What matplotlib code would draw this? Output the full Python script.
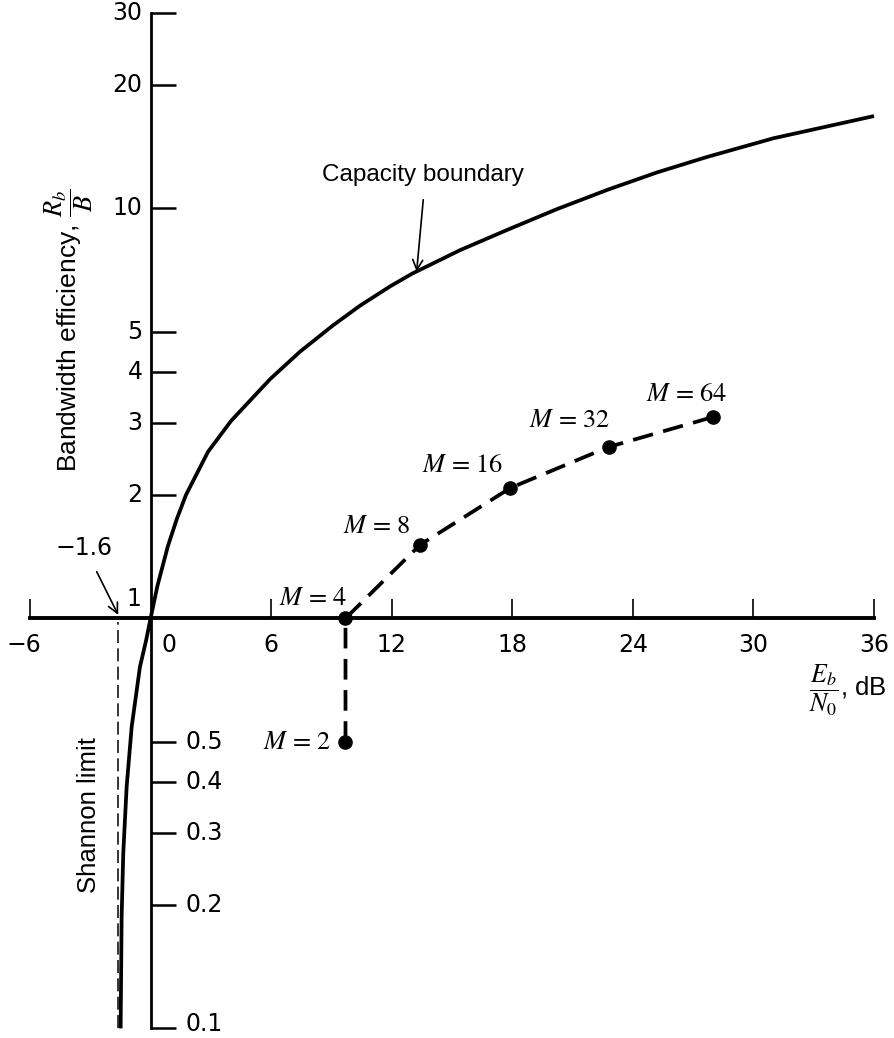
import matplotlib
matplotlib.use("Agg")
import matplotlib.pyplot as plt
from matplotlib.ticker import NullLocator

plt.rcParams['mathtext.fontset'] = 'stix'
plt.rcParams['font.family'] = ['Liberation Sans', 'DejaVu Sans']

# ---- data ----
# capacity boundary (Eb/N0 in dB, bandwidth efficiency Rb/B)
cap_ebno_db = [-1.49, -1.44, -1.36, -1.19, -0.94, -0.53, -0.22, 0.00, 0.34, 0.86,
               1.31, 1.76, 2.86, 4.00, 5.94, 7.43, 9.09, 10.42, 11.91, 13.01,
               15.4, 17.74, 20.2, 22.71, 25.2, 27.69, 31.0, 34.45, 36.0]
cap_eff = [0.100, 0.187, 0.267, 0.389, 0.544, 0.761, 0.885, 1.00, 1.20, 1.50,
           1.75, 2.00, 2.55, 3.03, 3.83, 4.47, 5.19, 5.79, 6.45, 6.93,
           7.91, 8.86, 9.95, 11.09, 12.24, 13.35, 14.83, 16.16, 16.8]

# M-ary operating points
mod_M = [2, 4, 8, 16, 32, 64]
mod_ebno_db = [9.7, 9.7, 13.4, 17.9, 22.8, 28.0]
mod_eff = [0.5, 1.0, 1.51, 2.08, 2.62, 3.1]

shannon_limit_db = -1.6

x_ticks = [-6, 0, 6, 12, 18, 24, 30, 36]
x_tick_labels = ['\u22126', '0', '6', '12', '18', '24', '30', '36']
y_ticks_upper = [2, 3, 4, 5, 10, 20, 30]
y_ticks_upper_labels = ['2', '3', '4', '5', '10', '20', '30']
y_ticks_lower = [0.1, 0.2, 0.3, 0.4, 0.5]
y_ticks_lower_labels = ['0.1', '0.2', '0.3', '0.4', '0.5']

# ---- figure ----
W, H = 894, 1038
fig = plt.figure(figsize=(W / 100, H / 100), dpi=100)
ax = fig.add_axes([30 / W, (H - 1028.4) / H, 844 / W, (1028.4 - 12.8) / H])
ax.set_yscale('log')
ax.set_xlim(-6, 36)
ax.set_ylim(0.1, 30)

for s in ['top', 'right']:
    ax.spines[s].set_visible(False)
ax.spines['left'].set_position(('data', 0))
ax.spines['bottom'].set_position(('data', 1))
ax.spines['left'].set_bounds(0.1, 30)
ax.spines['bottom'].set_bounds(-6, 36)
ax.spines['left'].set_linewidth(2.0)
ax.spines['bottom'].set_linewidth(2.8)

ax.set_xticks([t for t in x_ticks if t != 0])
ax.set_yticks(y_ticks_upper + y_ticks_lower)
ax.yaxis.set_minor_locator(NullLocator())
ax.tick_params(axis='x', direction='in', length=14, width=1.2, labelbottom=False)
ax.tick_params(axis='y', direction='in', length=18, width=1.8, labelleft=False)

num_font = dict(fontsize=17, family='DejaVu Sans')
# x tick labels
for t, lbl in zip(x_ticks, x_tick_labels):
    dx = 0
    if t == 0:
        dx = 18
    elif t == -6:
        dx = -6
    ax.annotate(lbl, xy=(t, 1), xytext=(dx, -27), textcoords='offset pixels',
                ha='center', va='center', **num_font)
# y tick labels
for v, lbl in zip(y_ticks_upper, y_ticks_upper_labels):
    ax.annotate(lbl, xy=(0, v), xytext=(-8, 0), textcoords='offset pixels',
                ha='right', va='center', **num_font)
for v, lbl in zip(y_ticks_lower, y_ticks_lower_labels):
    dy = 4 if v == min(y_ticks_lower) else 0
    ax.annotate(lbl, xy=(0, v), xytext=(35, dy), textcoords='offset pixels',
                ha='left', va='center', **num_font)
ax.annotate('1', xy=(0, 1), xytext=(-17, 19), textcoords='offset pixels',
            ha='center', va='center', **num_font)

# capacity boundary
ax.plot(cap_ebno_db, cap_eff, color='black', lw=2.7, clip_on=False,
        solid_joinstyle='round', solid_capstyle='butt')

# Shannon limit dashed line
ax.plot([shannon_limit_db, shannon_limit_db], [0.1, 0.98], color='black', lw=1.1,
        dashes=(8.5, 3.5), clip_on=False)

# M-ary points
ax.plot(mod_ebno_db, mod_eff, color='black', lw=2.7, dashes=(5.5, 2.8),
        marker='o', markersize=9.5, clip_on=False)

label_offsets = {2: (-48, -1), 4: (-32, 19), 8: (-43, 18), 16: (-48, 22),
                 32: (-39, 26), 64: (-27, 22)}
for m, xv, yv in zip(mod_M, mod_ebno_db, mod_eff):
    dx, dy = label_offsets[m]
    ax.annotate(r'$M$ = %d' % m, xy=(xv, yv), xytext=(dx, dy),
                textcoords='offset pixels', ha='center', va='center',
                fontsize=19, family='STIXGeneral')

# Capacity boundary annotation
ax.text(13.56, 12.06, 'Capacity boundary', ha='center', va='center', fontsize=17.5)
ax.annotate('', xy=(13.24, 7.01), xytext=(13.57, 10.5),
            arrowprops=dict(arrowstyle='->', lw=1.2, color='black',
                            mutation_scale=18, shrinkA=0, shrinkB=0))

# -1.6 annotation
ax.text(-3.3, 1.485, '\u22121.6', ha='center', va='center', **num_font)
ax.annotate('', xy=(-1.61, 1.02), xytext=(-2.68, 1.30),
            arrowprops=dict(arrowstyle='->', lw=1.2, color='black',
                            mutation_scale=18, shrinkA=0, shrinkB=0))

# Shannon limit label
ax.text(-3.07, 0.331, 'Shannon limit', rotation=90, ha='center', va='center',
        fontsize=18.5)

# axis labels
fig.text(69 / W, 1 - 330 / H, r'Bandwidth efficiency, $\dfrac{R_b}{B}$',
         rotation=90, ha='center', va='center', fontsize=19)
fig.text(848 / W, 1 - 690 / H, r'$\dfrac{E_b}{N_0}$, dB', ha='center', va='center',
         fontsize=18.5)

fig.savefig('out.png', dpi=100)
